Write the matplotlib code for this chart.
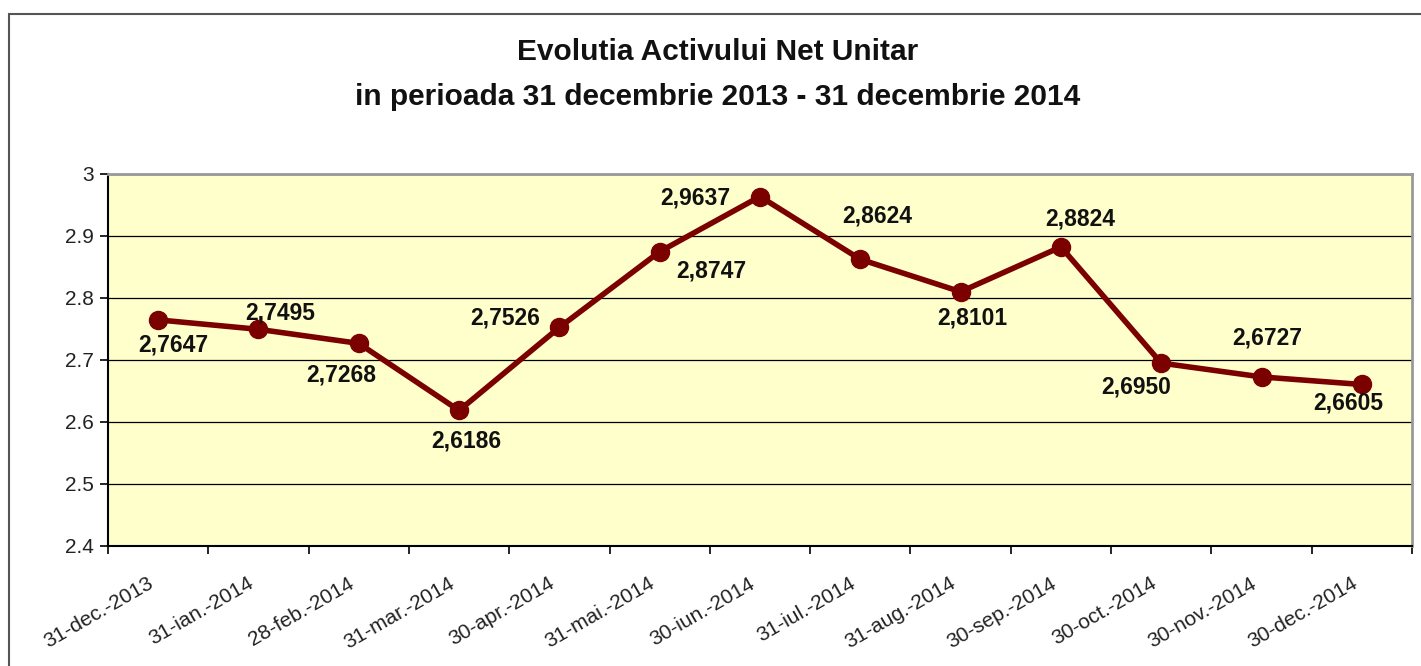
import matplotlib.pyplot as plt
from matplotlib.patches import Rectangle
from matplotlib.transforms import ScaledTranslation

plt.rcParams['font.family'] = ['Liberation Sans', 'DejaVu Sans']

dates = ['31-dec.-2013', '31-ian.-2014', '28-feb.-2014', '31-mar.-2014', '30-apr.-2014',
         '31-mai.-2014', '30-iun.-2014', '31-iul.-2014', '31-aug.-2014', '30-sep.-2014',
         '30-oct.-2014', '30-nov.-2014', '30-dec.-2014']
vuan = [2.7647, 2.7495, 2.7268, 2.6186, 2.7526, 2.8747, 2.9637, 2.8624, 2.8101,
        2.8824, 2.6950, 2.6727, 2.6605]
# label offsets in pixels (dx, dy), dy up positive
offsets = [(15, -25), (22, 16), (-18, -32), (7, -31), (-54, 9), (52, -19), (-65, -1),
           (17, 43), (12, -26), (19, 28), (-25, -24), (6, 39), (-14, -19)]

fig = plt.figure(figsize=(14.21, 6.66), dpi=100)
fig.patches.append(Rectangle((9 / 1421, -0.1), 1.2, 1 - 14 / 666 + 0.1, transform=fig.transFigure,
                             fill=False, edgecolor='#555555', linewidth=1.5))

ax = fig.add_axes([108 / 1421, 1 - 546 / 666, (1412 - 108) / 1421, (546 - 174) / 666])
ax.set_facecolor('#FFFFCC')

x = list(range(len(dates)))
ax.plot(x, vuan, color='#7B0000', linewidth=4, marker='o', markersize=13, zorder=3)

for i, (v, (dx, dy)) in enumerate(zip(vuan, offsets)):
    ax.annotate(f'{v:.4f}'.replace('.', ','), (i, v), xytext=(dx, dy),
                textcoords='offset pixels', ha='center', va='center',
                fontsize=16.5, fontweight='bold', color='#111111')

ax.set_ylim(2.4, 3.0)
ax.set_yticks([2.4, 2.5, 2.6, 2.7, 2.8, 2.9, 3.0])
ax.set_yticklabels(['2.4', '2.5', '2.6', '2.7', '2.8', '2.9', '3'])
ax.set_xlim(-0.5, len(dates) - 0.5)
ax.set_xticks(x)
ax.set_xticklabels(dates, rotation=30, ha='right', rotation_mode='anchor')
ax.set_xticks([i - 0.5 for i in range(len(dates) + 1)], minor=True)
ax.tick_params(axis='x', which='major', length=0, pad=20, labelsize=15, labelcolor='#222222')
ax.tick_params(axis='x', which='minor', length=6, width=1.2, direction='out')
ax.tick_params(axis='y', length=6, width=1.2, direction='out', labelsize=15, labelcolor='#222222', pad=4.5)
ax.grid(axis='y', color='black', linewidth=0.9)
ax.set_axisbelow(True)
shift = ScaledTranslation(-11 / 100, 0, fig.dpi_scale_trans)
for lab in ax.get_xticklabels():
    lab.set_transform(lab.get_transform() + shift)

for s in ['left', 'bottom']:
    ax.spines[s].set_color('black')
    ax.spines[s].set_linewidth(1.5)
for s in ['top', 'right']:
    ax.spines[s].set_color('#999999')
    ax.spines[s].set_linewidth(2)

fig.text(718 / 1421, 1 - 52 / 666, 'Evolutia Activului Net Unitar', ha='center', va='center',
         fontsize=21.5, fontweight='bold', color='#111111')
fig.text(718 / 1421, 1 - 97 / 666, 'in perioada 31 decembrie 2013 - 31 decembrie 2014', ha='center',
         va='center', fontsize=21.5, fontweight='bold', color='#111111')

fig.savefig('out.png', dpi=100)
